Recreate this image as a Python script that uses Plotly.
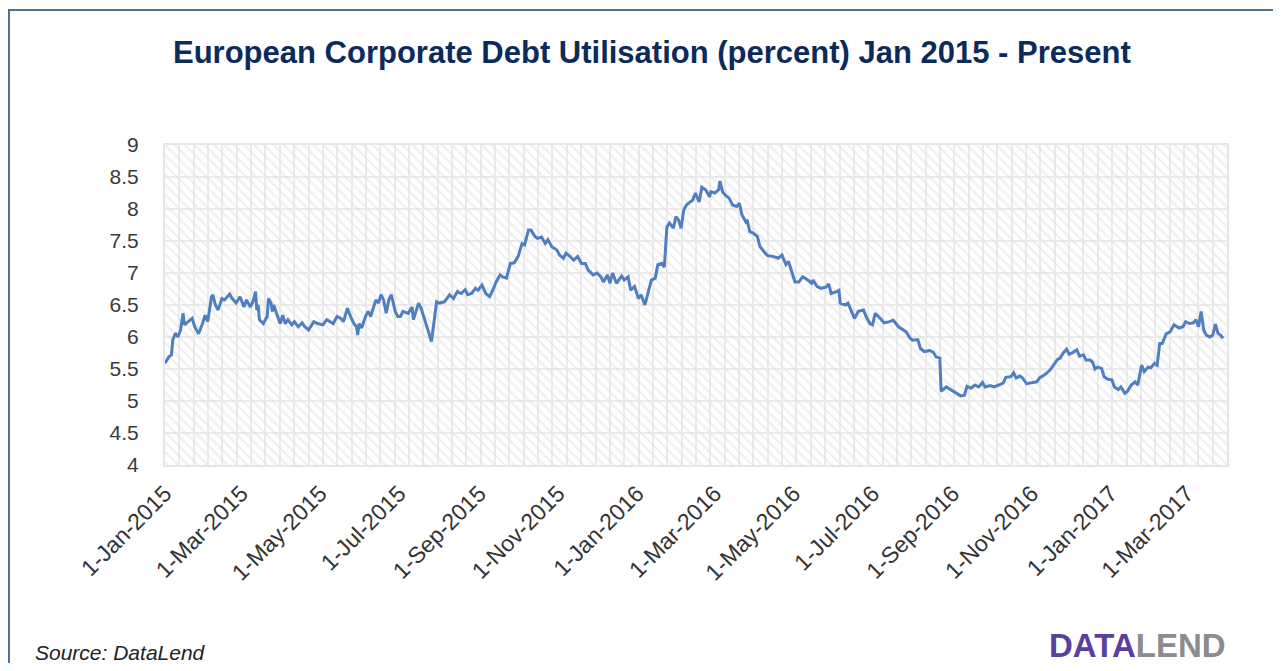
import plotly.graph_objects as go

# ---------------- data ----------------
dates_2015 = [
    "2015-01-01", "2015-01-04", "2015-01-06", "2015-01-07", "2015-01-09", "2015-01-11", "2015-01-13", "2015-01-15", "2015-01-16", "2015-01-19",
    "2015-01-22", "2015-01-24", "2015-01-27", "2015-01-30", "2015-02-01", "2015-02-03", "2015-02-06", "2015-02-07", "2015-02-09", "2015-02-11",
    "2015-02-14", "2015-02-16", "2015-02-20", "2015-02-22", "2015-02-25", "2015-02-28", "2015-03-03", "2015-03-05", "2015-03-08", "2015-03-10",
    "2015-03-12", "2015-03-13", "2015-03-14", "2015-03-15", "2015-03-18", "2015-03-21", "2015-03-22", "2015-03-24", "2015-03-25", "2015-03-26",
    "2015-03-28", "2015-03-31", "2015-04-02", "2015-04-04", "2015-04-06", "2015-04-09", "2015-04-11", "2015-04-14", "2015-04-17", "2015-04-19",
    "2015-04-22", "2015-04-26", "2015-04-29", "2015-05-03", "2015-05-06", "2015-05-09", "2015-05-11", "2015-05-14", "2015-05-17", "2015-05-19",
    "2015-05-22", "2015-05-24", "2015-05-27", "2015-05-29", "2015-05-30", "2015-05-31", "2015-06-02", "2015-06-05", "2015-06-07", "2015-06-09",
    "2015-06-11", "2015-06-13", "2015-06-15", "2015-06-17", "2015-06-19", "2015-06-21", "2015-06-23", "2015-06-25", "2015-06-28", "2015-06-30",
    "2015-07-02", "2015-07-04", "2015-07-08", "2015-07-11", "2015-07-12", "2015-07-16", "2015-07-18", "2015-07-21", "2015-07-24", "2015-07-26",
    "2015-07-30", "2015-08-01", "2015-08-05", "2015-08-09", "2015-08-12", "2015-08-15", "2015-08-18", "2015-08-21", "2015-08-23", "2015-08-26",
    "2015-08-29", "2015-08-31", "2015-09-03", "2015-09-06", "2015-09-09", "2015-09-12", "2015-09-14", "2015-09-17", "2015-09-19", "2015-09-22",
    "2015-09-25", "2015-09-28", "2015-10-01", "2015-10-04", "2015-10-06", "2015-10-09", "2015-10-11", "2015-10-14", "2015-10-16", "2015-10-19",
    "2015-10-22", "2015-10-24", "2015-10-27", "2015-10-31", "2015-11-02", "2015-11-05", "2015-11-07", "2015-11-10", "2015-11-13", "2015-11-16",
    "2015-11-19", "2015-11-22", "2015-11-24", "2015-11-28", "2015-12-01", "2015-12-04", "2015-12-06", "2015-12-09", "2015-12-11", "2015-12-13",
    "2015-12-16", "2015-12-20", "2015-12-22", "2015-12-25", "2015-12-27", "2015-12-30",
]
values_2015 = [
    5.59, 5.69, 5.72, 5.95, 6.06, 6.00, 6.11, 6.37, 6.19, 6.24,
    6.29, 6.16, 6.05, 6.21, 6.34, 6.24, 6.63, 6.66, 6.50, 6.42,
    6.60, 6.58, 6.67, 6.60, 6.53, 6.63, 6.47, 6.58, 6.47, 6.55,
    6.71, 6.42, 6.50, 6.27, 6.21, 6.32, 6.60, 6.53, 6.40, 6.50,
    6.37, 6.21, 6.34, 6.21, 6.27, 6.19, 6.24, 6.16, 6.22, 6.16,
    6.11, 6.24, 6.21, 6.19, 6.27, 6.24, 6.21, 6.32, 6.29, 6.24,
    6.45, 6.34, 6.21, 6.16, 6.03, 6.21, 6.14, 6.32, 6.40, 6.32,
    6.47, 6.58, 6.53, 6.66, 6.58, 6.37, 6.58, 6.66, 6.40, 6.32,
    6.32, 6.40, 6.37, 6.47, 6.27, 6.53, 6.45, 6.27, 6.06, 5.93,
    6.55, 6.53, 6.55, 6.66, 6.60, 6.71, 6.68, 6.74, 6.66, 6.68,
    6.76, 6.73, 6.81, 6.68, 6.63, 6.76, 6.86, 6.97, 6.94, 6.92,
    7.15, 7.16, 7.26, 7.46, 7.44, 7.67, 7.67, 7.57, 7.54, 7.56,
    7.46, 7.52, 7.41, 7.36, 7.28, 7.23, 7.31, 7.26, 7.20, 7.26,
    7.15, 7.15, 7.05, 6.97, 7.00, 6.94, 6.86, 6.97, 6.84, 7.00,
    6.84, 6.95, 6.89, 6.94, 6.73, 6.79,
]
dates_2016 = [
    "2016-01-02", "2016-01-04", "2016-01-07", "2016-01-09", "2016-01-12", "2016-01-15", "2016-01-17", "2016-01-20", "2016-01-22", "2016-01-24",
    "2016-01-26", "2016-01-29", "2016-01-31", "2016-02-02", "2016-02-04", "2016-02-06", "2016-02-08", "2016-02-11", "2016-02-13", "2016-02-15",
    "2016-02-18", "2016-02-20", "2016-02-23", "2016-02-26", "2016-02-27", "2016-03-01", "2016-03-04", "2016-03-05", "2016-03-07", "2016-03-09",
    "2016-03-12", "2016-03-15", "2016-03-18", "2016-03-20", "2016-03-22", "2016-03-25", "2016-03-26", "2016-03-28", "2016-03-31", "2016-04-03",
    "2016-04-05", "2016-04-09", "2016-04-11", "2016-04-15", "2016-04-19", "2016-04-22", "2016-04-25", "2016-04-27", "2016-04-29", "2016-05-02",
    "2016-05-05", "2016-05-08", "2016-05-12", "2016-05-15", "2016-05-16", "2016-05-19", "2016-05-22", "2016-05-26", "2016-05-28", "2016-05-30",
    "2016-06-03", "2016-06-05", "2016-06-06", "2016-06-10", "2016-06-12", "2016-06-15", "2016-06-17", "2016-06-20", "2016-06-24", "2016-06-26",
    "2016-06-29", "2016-07-01", "2016-07-03", "2016-07-07", "2016-07-10", "2016-07-14", "2016-07-17", "2016-07-21", "2016-07-25", "2016-07-27",
    "2016-07-30", "2016-08-01", "2016-08-05", "2016-08-07", "2016-08-10", "2016-08-14", "2016-08-17", "2016-08-19", "2016-08-22", "2016-08-23",
    "2016-08-27", "2016-08-31", "2016-09-04", "2016-09-07", "2016-09-10", "2016-09-12", "2016-09-15", "2016-09-18", "2016-09-21", "2016-09-24",
    "2016-09-26", "2016-09-30", "2016-10-03", "2016-10-07", "2016-10-10", "2016-10-12", "2016-10-16", "2016-10-18", "2016-10-20", "2016-10-23",
    "2016-10-25", "2016-10-28", "2016-11-01", "2016-11-05", "2016-11-07", "2016-11-11", "2016-11-15", "2016-11-18", "2016-11-21", "2016-11-23",
    "2016-11-25", "2016-11-28", "2016-11-30", "2016-12-03", "2016-12-06", "2016-12-08", "2016-12-11", "2016-12-13", "2016-12-16", "2016-12-18",
    "2016-12-20", "2016-12-22", "2016-12-25", "2016-12-27", "2016-12-30",
]
values_2016 = [
    6.60, 6.66, 6.50, 6.66, 6.89, 6.92, 7.13, 7.15, 7.09, 7.72,
    7.78, 7.70, 7.88, 7.83, 7.70, 7.98, 8.06, 8.11, 8.14, 8.25,
    8.11, 8.34, 8.30, 8.19, 8.27, 8.25, 8.30, 8.44, 8.27, 8.22,
    8.17, 8.06, 8.04, 8.09, 7.91, 7.80, 7.83, 7.65, 7.62, 7.57,
    7.41, 7.31, 7.27, 7.26, 7.23, 7.28, 7.13, 7.18, 7.05, 6.86,
    6.86, 6.94, 6.89, 6.84, 6.89, 6.79, 6.76, 6.78, 6.83, 6.68,
    6.71, 6.73, 6.53, 6.50, 6.53, 6.40, 6.29, 6.40, 6.42, 6.32,
    6.21, 6.19, 6.37, 6.29, 6.22, 6.24, 6.26, 6.16, 6.11, 6.08,
    5.98, 5.95, 5.96, 5.82, 5.77, 5.79, 5.76, 5.69, 5.67, 5.15,
    5.22, 5.17, 5.12, 5.08, 5.09, 5.23, 5.20, 5.25, 5.22, 5.29,
    5.22, 5.24, 5.22, 5.25, 5.28, 5.37, 5.38, 5.44, 5.36, 5.39,
    5.36, 5.27, 5.29, 5.30, 5.36, 5.41, 5.48, 5.56, 5.65, 5.67,
    5.74, 5.81, 5.73, 5.76, 5.80, 5.70, 5.72, 5.64, 5.64, 5.61,
    5.50, 5.53, 5.51, 5.38, 5.34,
]
dates_2017 = [
    "2017-01-02", "2017-01-04", "2017-01-07", "2017-01-09", "2017-01-12", "2017-01-14", "2017-01-17", "2017-01-20", "2017-01-22", "2017-01-25",
    "2017-01-27", "2017-01-30", "2017-02-01", "2017-02-04", "2017-02-06", "2017-02-08", "2017-02-10", "2017-02-13", "2017-02-16", "2017-02-19",
    "2017-02-23", "2017-02-26", "2017-02-28", "2017-03-03", "2017-03-06", "2017-03-08", "2017-03-10", "2017-03-12", "2017-03-14", "2017-03-16",
    "2017-03-19", "2017-03-21", "2017-03-23", "2017-03-25", "2017-03-27", "2017-03-29",
]
values_2017 = [
    5.33, 5.22, 5.18, 5.22, 5.12, 5.15, 5.25, 5.30, 5.25, 5.56,
    5.46, 5.53, 5.52, 5.59, 5.56, 5.90, 5.90, 6.05, 6.08, 6.19,
    6.14, 6.16, 6.24, 6.21, 6.22, 6.27, 6.16, 6.40, 6.11, 6.03,
    6.00, 6.03, 6.20, 6.06, 6.03, 5.98,
]

dates = dates_2015 + dates_2016 + dates_2017
values = values_2015 + values_2016 + values_2017
assert len(dates) == len(values)

tick_dates = ["2015-01-01", "2015-03-01", "2015-05-01", "2015-07-01", "2015-09-01", "2015-11-01",
              "2016-01-01", "2016-03-01", "2016-05-01", "2016-07-01", "2016-09-01", "2016-11-01",
              "2017-01-01", "2017-03-01"]
tick_labels = ["1-Jan-2015", "1-Mar-2015", "1-May-2015", "1-Jul-2015", "1-Sep-2015", "1-Nov-2015",
               "1-Jan-2016", "1-Mar-2016", "1-May-2016", "1-Jul-2016", "1-Sep-2016", "1-Nov-2016",
               "1-Jan-2017", "1-Mar-2017"]
x_range = ["2015-01-01", "2017-04-01"]
y_ticks = [4, 4.5, 5, 5.5, 6, 6.5, 7, 7.5, 8, 8.5, 9]
y_tick_labels = ["4", "4.5", "5", "5.5", "6", "6.5", "7", "7.5", "8", "8.5", "9"]

title_text = "European Corporate Debt Utilisation (percent) Jan 2015 - Present"
source_text = "Source: DataLend"

# ---------------- figure ----------------
# the page body has an 8px margin, so the figure is sized/positioned to fit inside it
OFF = 8
W, H = 1281 - 2 * OFF, 671 - 2 * OFF


def px(x):
    return (x - OFF) / W


def py(y):
    return 1 - (y - OFF) / H


dom_x = [px(165), px(1227)]
dom_y = [py(465), py(145)]
GRID = "#ebebeb"

fig = go.Figure()

# hatched plot-area background (decoration on the hidden base axes)
fig.add_trace(go.Bar(
    x=[0.5], y=[1], width=[1], xaxis="x", yaxis="y",
    marker=dict(color="rgba(0,0,0,0)", line=dict(width=0),
                pattern=dict(shape="\\", fgcolor="#e0e0e0", bgcolor="rgba(0,0,0,0)",
                             size=7, solidity=0.3)),
    hoverinfo="skip", showlegend=False,
))

fig.add_trace(go.Scatter(
    x=dates, y=values, xaxis="x2", yaxis="y2", mode="lines",
    line=dict(color="#4f7fc1", width=3), showlegend=False,
))

fig.update_layout(
    width=W, height=H,
    margin=dict(l=0, r=0, t=0, b=0),
    paper_bgcolor="white", plot_bgcolor="white",
    font=dict(family="Liberation Sans, Arial, sans-serif", color="#333333"),
    showlegend=False,
    bargap=0,
    xaxis=dict(domain=dom_x, range=[0, 1], anchor="y", showgrid=True, gridcolor=GRID, gridwidth=2,
               tick0=0, dtick=1 / 74, showticklabels=False, ticks="", zeroline=False,
               showline=False, automargin=False, fixedrange=True),
    yaxis=dict(domain=dom_y, range=[0, 1], anchor="x", showgrid=False, showticklabels=False,
               ticks="", zeroline=False, showline=False, automargin=False, fixedrange=True),
    xaxis2=dict(type="date", overlaying="x", anchor="y2", side="bottom", range=x_range,
                tickvals=tick_dates, ticktext=tick_labels, tickangle=-45,
                tickfont=dict(size=23, color="#333333"), showgrid=False, zeroline=False,
                showline=True, linecolor="#e6e6e6", linewidth=2, mirror=True, ticks="",
                ticklabelstandoff=4, automargin=False),
    yaxis2=dict(overlaying="y", anchor="x2", side="left", range=[4, 9],
                tickvals=y_ticks, ticktext=y_tick_labels,
                tickfont=dict(size=21, color="#3a3a3a"), showgrid=True, gridcolor=GRID, gridwidth=2,
                zeroline=False, showline=True, linecolor="#e6e6e6", linewidth=2, mirror=True,
                ticks="", ticklabelstandoff=20, automargin=False),
    shapes=[dict(type="rect", xref="paper", yref="paper", x0=px(9), x1=1.05, y0=-0.05, y1=py(10),
                 line=dict(color="#51708f", width=2), fillcolor="rgba(0,0,0,0)", layer="below")],
    annotations=[
        dict(text=f"<b>{title_text}</b>", x=px(652), y=py(52), xref="paper", yref="paper",
             xanchor="center", yanchor="middle", showarrow=False,
             font=dict(size=31, color="#0c2b5a")),
        dict(text=f"<i>{source_text}</i>", x=px(33), y=py(652), xref="paper", yref="paper",
             xanchor="left", yanchor="middle", showarrow=False,
             font=dict(size=21, color="#222222")),
        dict(text="<b><span style='color:#5b3f9e'>DATA</span><span style='color:#8b8b90'>LEND</span></b>",
             x=px(1228), y=py(645), xref="paper", yref="paper",
             xanchor="right", yanchor="middle", showarrow=False,
             font=dict(size=33, family="Liberation Sans, Arial, sans-serif")),
    ],
)

fig.write_html("out.html", config={"displayModeBar": False})
